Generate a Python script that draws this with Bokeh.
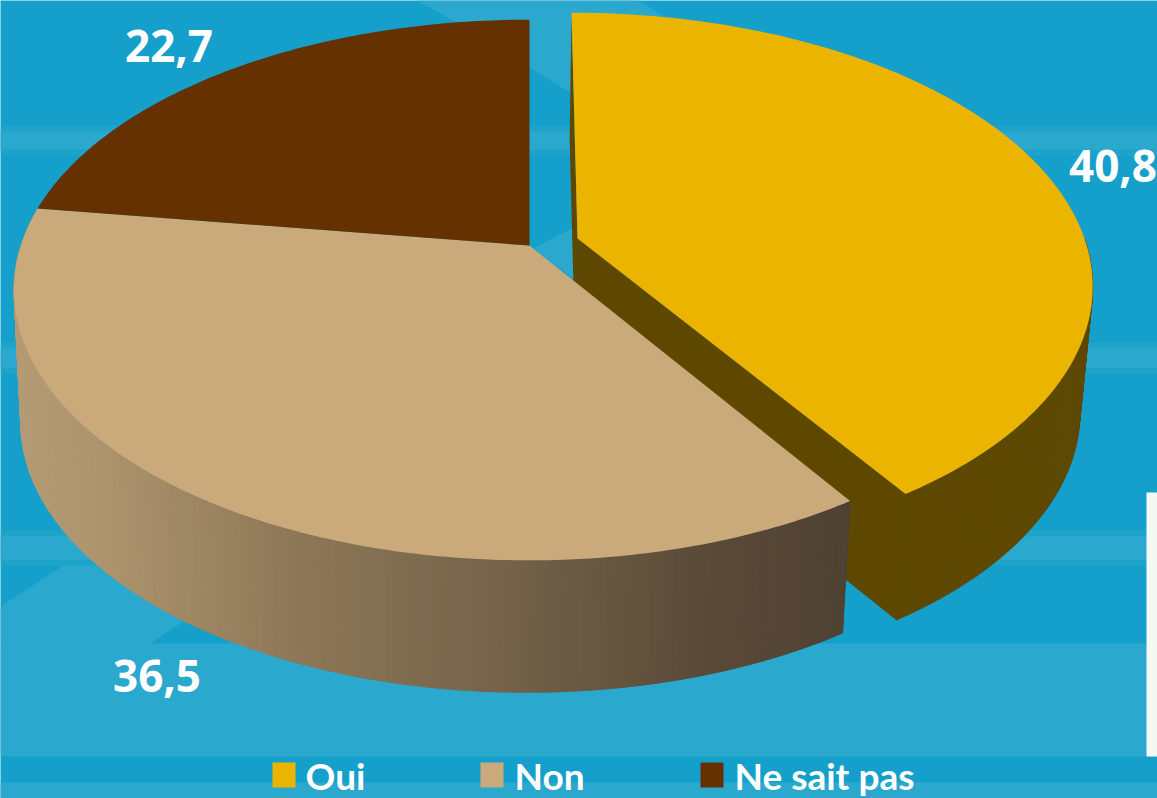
import numpy as np
from bokeh.plotting import figure
from bokeh.models import Range1d
from bokeh.core.properties import value
from bokeh.embed import file_html
from bokeh.resources import INLINE

categories = ["Oui", "Non", "Ne sait pas"]
shares = [40.8, 36.5, 22.7]
share_labels = ["40,8", "36,5", "22,7"]

W, H = 1157, 798
BASE = "#14a0cb"
LIGHT = "#2aa8cd"
TOP = {"Oui": "#ebb400", "Non": "#caa97a", "Ne sait pas": "#653100"}
SIDE_OUI = "#5e4800"

p = figure(width=W, height=H, output_backend="svg", toolbar_location=None,
           x_range=Range1d(0, W), y_range=Range1d(H, 0),
           background_fill_color=BASE, border_fill_color=BASE,
           min_border=0, outline_line_color=None)
p.axis.visible = False
p.grid.visible = False
p.styles = {"position": "absolute", "left": "0px", "top": "0px"}

# backdrop
for y0, y1 in [(128, 152), (345, 370), (533, 562)]:
    p.quad(left=0, right=W, top=y0 - 3, bottom=y1 + 3, fill_color=LIGHT, fill_alpha=0.45, line_color=None)
    p.quad(left=0, right=W, top=y0 + 3, bottom=y1 - 3, fill_color=LIGHT, line_color=None)
for y0, y1 in [(643, 756), (782, 798)]:
    p.quad(left=0, right=W, top=y0, bottom=y1, fill_color=LIGHT, line_color=None)
p.patch([0, 63, 300, 300, 187, 150, 0], [606, 565, 565, 585, 618, 643, 643], fill_color=LIGHT, line_color=None)
p.patch([417, 638, 670, 571, 529, 470], [0, 0, 20, 93, 67, 30], fill_color=LIGHT, line_color=None)
p.patch([533, 575, 575], [248, 226, 280], fill_color=LIGHT, line_color=None)
p.quad(left=1146, right=W, top=492, bottom=756, fill_color="#f4f9f5", line_color=None)


def face(theta, ax, ay, sc=1.0, skew=0.0):
    """Perspective projection of the unit disc; theta clockwise from 12 o'clock."""
    A, B, k = 509.0 * sc, 263.0, 0.1646
    u, v = np.sin(theta), np.cos(theta)
    w = 1 + k * v
    return ax + (A * u + skew * sc * v) / w, ay - B * v / w


def strips(t, top_kw, bot_kw):
    xt, yt = face(t, **top_kw)
    xb, yb = face(t, **bot_kw)
    xs = [[xt[i], xt[i + 1], xb[i + 1], xb[i]] for i in range(len(t) - 1)]
    ys = [[yt[i], yt[i + 1], yb[i + 1], yb[i]] for i in range(len(t) - 1)]
    return xs, ys, xb, yb


frac = np.array(shares) / sum(shares) * 2 * np.pi
oui, non, nsp = frac

# "Oui": exploded slice, clockwise from the top
OUI = dict(ax=577, ay=238, sc=0.996, skew=-7.0)
OUI_B = dict(ax=575, ay=364, sc=0.975, skew=-7.0)
x0t, y0t = face(np.array([0.0, oui]), **OUI)
x0b, y0b = face(np.array([0.0, oui]), **OUI_B)
# cut walls of the slice
p.patch([577, x0t[1], x0b[1], 575], [238, y0t[1], y0b[1], 364], fill_color=SIDE_OUI, line_color=SIDE_OUI, line_width=0.7)
p.patch([577, x0t[0], x0b[0], 575], [238, y0t[0] + 3, y0b[0], 364], fill_color=SIDE_OUI, line_color=None)
t = np.linspace(np.pi / 2, oui, 80)
xs, ys, _, _ = strips(t, OUI, OUI_B)
p.patches(xs, ys, fill_color=SIDE_OUI, line_color=SIDE_OUI, line_width=0.7)
t = np.linspace(0, oui, 160)
xt, yt = face(t, **OUI)
p.patch(np.r_[577, xt], np.r_[238, yt], fill_color=TOP["Oui"], line_color=None)

# "Non": side wall drawn in thin strips with a left-to-right shade
stop_x = [25, 100, 300, 500, 700, 845]
stop_c = np.array([[0xb4, 0x9b, 0x74], [0xae, 0x95, 0x6e], [0x8d, 0x77, 0x57],
                   [0x74, 0x63, 0x4a], [0x5a, 0x4a, 0x38], [0x4f, 0x41, 0x33]], float)
NON = dict(ax=528, ay=245, sc=0.997)
t = np.linspace(-nsp, -nsp - non, 181)
xs, ys, xb, yb = strips(t, NON, dict(ax=526, ay=377, sc=0.98))
cs = []
for i in range(len(t) - 1):
    mx = (xb[i] + xb[i + 1]) / 2
    c = [int(round(np.interp(mx, stop_x, stop_c[:, j]))) for j in range(3)]
    cs.append("#%02x%02x%02x" % tuple(c))
p.patches(xs, ys, fill_color=cs, line_color=cs, line_width=1)
xt, yt = face(t, **NON)
p.patch(np.r_[529, xt], np.r_[245, yt], fill_color=TOP["Non"], line_color=None)

# "Ne sait pas"
t = np.linspace(0, -nsp, 100)
xt, yt = face(t, 529, 245)
p.patch(np.r_[529, xt], np.r_[245, yt], fill_color=TOP["Ne sait pas"], line_color=None)

# value labels
p.text(x=[1112.5, 156.5, 168.5], y=[165, 675, 45], text=share_labels, text_font_size="44px",
       text_align="center", text_baseline="middle",
       text_color="white", text_font=value("Open Sans"), text_font_style="bold")

# legend
p.quad(left=[272, 480, 700], right=[295, 503, 723], top=[762] * 3, bottom=[787] * 3,
       fill_color=[TOP[c] for c in categories], line_color=None)
p.text(x=[305, 514, 734], y=[775] * 3, text=categories, text_font_size="37px",
       text_align="left", text_baseline="middle",
       text_color="white", text_font=value("Lato"), text_font_style="bold")

open("out.html", "w").write(file_html(p, INLINE))
